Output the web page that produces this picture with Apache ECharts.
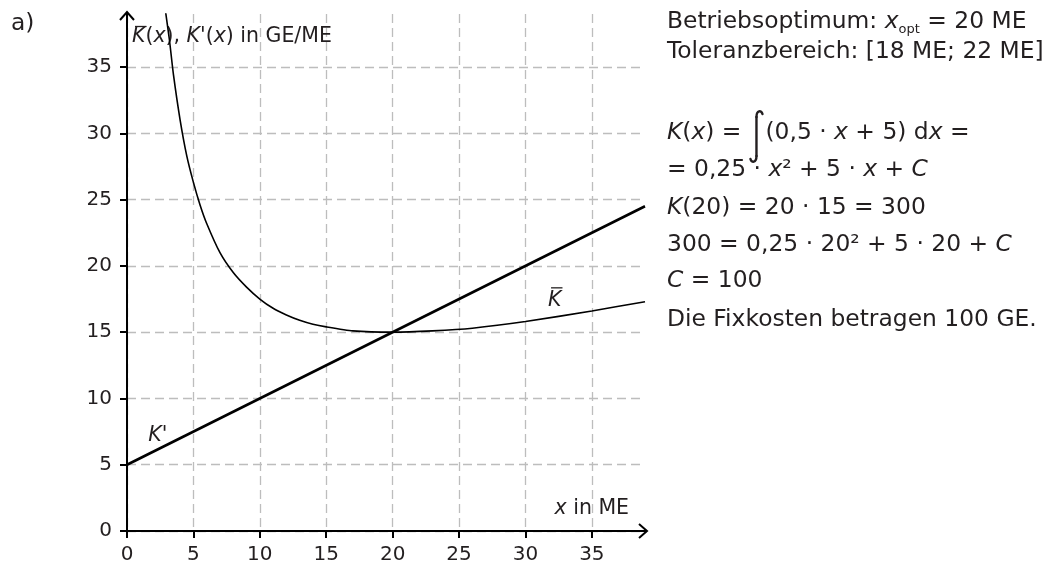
<!DOCTYPE html>
<html><head><meta charset="utf-8">
<script src="https://cdn.jsdelivr.net/npm/echarts@6/dist/echarts.min.js"></script>
<style>html,body{margin:0;padding:0;background:#fff}#c{width:1049px;height:565px}</style>
</head><body><div id="c"></div>
<script>
// ---- data ----
const xTicks = [0, 5, 10, 15, 20, 25, 30, 35];
const yTicks = [0, 5, 10, 15, 20, 25, 30, 35];
const kBarX = [2.9, 3.2, 3.5, 4, 4.5, 5, 5.5, 6, 7, 8, 9, 10, 11, 12, 13, 14, 15, 17, 20, 23, 26, 30, 35, 39];
const kBarY = [39.2, 37.0, 34.4, 31.0, 28.3, 26.3, 24.6, 23.2, 21.0, 19.5, 18.4, 17.5, 16.8, 16.3, 15.9, 15.6, 15.4, 15.1, 15.0, 15.1, 15.3, 15.8, 16.6, 17.3];
const kPrimeX = [0, 39];
const kPrimeY = [5, 24.5];

const FONT = '"DejaVu Sans", sans-serif';
const TXT = '#231f20';
const FS = 23.4;   // right-hand text
const FL = 20.5;   // chart labels
const chart = echarts.init(document.getElementById('c'));

const kBar = kBarX.map((x, i) => [x, kBarY[i]]);
const kPrime = kPrimeX.map((x, i) => [x, kPrimeY[i]]);

function axisCfg(ticks, margin) {
  return {
    type: 'value', min: 0, max: 39, interval: 5,
    axisLine: { show: true, onZero: false, lineStyle: { color: '#000', width: 2 } },
    axisTick: { show: true, length: 7, customValues: ticks, lineStyle: { color: '#000', width: 2 } },
    axisLabel: { fontFamily: FONT, fontSize: 20, color: TXT, margin: margin, customValues: ticks },
    splitLine: { show: true, lineStyle: { color: '#bdbdbd', width: 1.3, type: [9, 5] } }
  };
}

function mkRich(fs) {
  return {
    i: { fontFamily: FONT, fontSize: fs, fontStyle: 'italic', color: TXT },
    n: { fontFamily: FONT, fontSize: fs, color: TXT },
    sub: { fontFamily: FONT, fontSize: 13, color: TXT, padding: [15, 0, 0, 0] }
  };
}
const richR = mkRich(FS), richL = mkRich(FL);

const ctx = document.createElement('canvas').getContext('2d');
function w(str, italic, fs) { ctx.font = (italic ? 'italic ' : '') + (fs || FS) + 'px ' + FONT; return ctx.measureText(str).width; }

function t(x, y, text, rich, align) {
  return { type: 'text', x: x, y: y, style: { text: text, rich: rich || richR, fontFamily: FONT, fontSize: FS, fill: TXT, verticalAlign: 'middle', align: align || 'left' } };
}

chart.setOption({
  animation: false,
  grid: { left: 127, right: 404, top: 14, bottom: 33 },
  xAxis: axisCfg(xTicks, 14),
  yAxis: axisCfg(yTicks, 15),
  series: [
    { type: 'line', data: kBar, smooth: 0.2, symbol: 'none', clip: true,
      lineStyle: { color: '#000', width: 1.6 } },
    { type: 'line', data: kPrime, symbol: 'none', clip: true,
      lineStyle: { color: '#000', width: 2.6 } }
  ]
});

const P = v => chart.convertToPixel({ gridIndex: 0 }, v);
const o = P([0, 0]), xe = P([39, 0]), ye = P([0, 39]);
const kp = P([1.6, 7.2]);
const kb = P([31.7, 17.4]);
const xl = P([37.8, 1.7]);

const kxW = w('K', true) + w('(') + w('x', true) + w(') =');
const RX = 667;
const ix = RX + kxW + 9;   // integral sign left
const kW = w('K', true, FL);

// integral sign drawn as strokes (top 111, bottom 162)
const iTop = 111, iBot = 162;
const iStyle = { stroke: TXT, lineWidth: 2.4, fill: null, lineCap: 'round' };
const integral = [
  { type: 'bezierCurve', shape: { x1: ix + 12, y1: iTop + 3, cpx1: ix + 11, cpy1: iTop - 1, cpx2: ix + 6, cpy2: iTop - 1, x2: ix + 6, y2: iTop + 6 }, style: iStyle },
  { type: 'line', shape: { x1: ix + 6, y1: iTop + 6, x2: ix + 6, y2: iBot - 6 }, style: iStyle },
  { type: 'bezierCurve', shape: { x1: ix + 6, y1: iBot - 6, cpx1: ix + 6, cpy1: iBot + 1, cpx2: ix + 1, cpy2: iBot + 1, x2: ix, y2: iBot - 3 }, style: iStyle }
];

const graphics = [
  { type: 'polyline', shape: { points: [[xe[0] - 6, xe[1] - 7], [xe[0] + 2, xe[1]], [xe[0] - 6, xe[1] + 7]] },
    style: { stroke: '#000', lineWidth: 2, fill: null } },
  { type: 'line', shape: { x1: xe[0] - 1, y1: xe[1], x2: xe[0] + 2, y2: xe[1] }, style: { stroke: '#000', lineWidth: 2 } },
  { type: 'polyline', shape: { points: [[ye[0] - 7, ye[1] + 6], [ye[0], ye[1] - 2], [ye[0] + 7, ye[1] + 6]] },
    style: { stroke: '#000', lineWidth: 2, fill: null } },
  { type: 'line', shape: { x1: ye[0], y1: ye[1] + 1, x2: ye[0], y2: ye[1] - 2 }, style: { stroke: '#000', lineWidth: 2 } },
  // y axis name
  t(o[0] + 5, 37, "{i|K}{n|(}{i|x}{n|), }{i|K'}{n|(}{i|x}{n|) in GE/ME}", richL),
  { type: 'line', shape: { x1: o[0] + 8, y1: 26.5, x2: o[0] + 5 + kW + 1, y2: 26.5 }, style: { stroke: TXT, lineWidth: 1.3 } },
  // curve labels
  t(kp[0], kp[1], "{i|K'}", richL),
  t(kb[0], kb[1], '{i|K}', richL),
  { type: 'line', shape: { x1: kb[0] + 3, y1: kb[1] - 12.5, x2: kb[0] + kW + 1, y2: kb[1] - 12.5 }, style: { stroke: TXT, lineWidth: 1.3 } },
  t(xl[0], xl[1], '{i|x}{n| in ME}', richL, 'right'),
  // a)
  t(11, 24, '{n|a)}'),
  // right text block
  t(RX, 22, '{n|Betriebsoptimum: }{i|x}{sub|opt}{n| = 20 ME}'),
  t(RX, 52, '{n|Toleranzbereich: [18 ME; 22 ME]}'),
  t(RX, 133, '{i|K}{n|(}{i|x}{n|) =}')
].concat(integral, [
  t(ix + 15, 133, '{n|(0,5 · }{i|x}{n| + 5) d}{i|x}{n| =}'),
  t(RX, 170, '{n|= 0,25 · }{i|x}{n|² + 5 · }{i|x}{n| + }{i|C}'),
  t(RX, 208, '{i|K}{n|(20) = 20 · 15 = 300}'),
  t(RX, 245, '{n|300 = 0,25 · 20² + 5 · 20 + }{i|C}'),
  t(RX, 281, '{i|C}{n| = 100}'),
  t(RX, 320, '{n|Die Fixkosten betragen 100 GE.}')
]);
chart.setOption({ graphic: graphics });
</script>
</body></html>
